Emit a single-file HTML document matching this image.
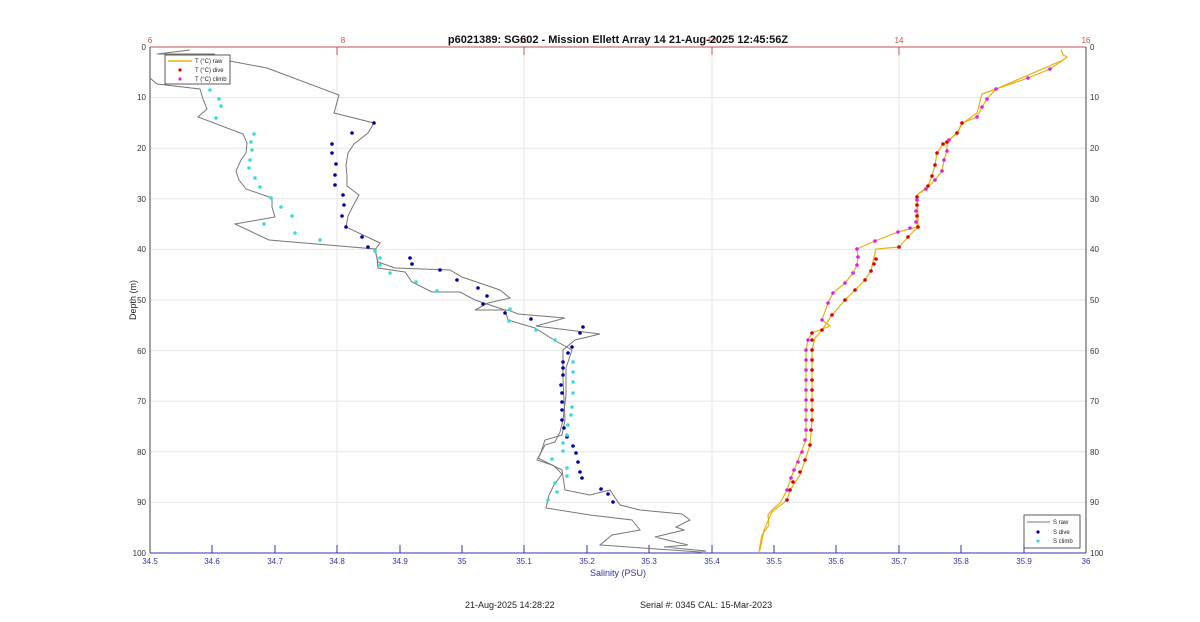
<!DOCTYPE html>
<html><head><meta charset="utf-8"><style>
body{margin:0;background:#fff}
svg{display:block;font-family:"Liberation Sans",sans-serif}
</style></head><body>
<svg width="1200" height="622" viewBox="0 0 1200 622">
<rect width="1200" height="622" fill="#fff"/>
<g stroke="#e6e6e6" stroke-width="1">
<line x1="150" y1="97.6" x2="1086" y2="97.6"/><line x1="150" y1="148.2" x2="1086" y2="148.2"/><line x1="150" y1="198.8" x2="1086" y2="198.8"/><line x1="150" y1="249.4" x2="1086" y2="249.4"/><line x1="150" y1="300" x2="1086" y2="300"/><line x1="150" y1="350.6" x2="1086" y2="350.6"/><line x1="150" y1="401.2" x2="1086" y2="401.2"/><line x1="150" y1="451.8" x2="1086" y2="451.8"/><line x1="150" y1="502.4" x2="1086" y2="502.4"/>
<line x1="337" y1="47" x2="337" y2="553"/><line x1="524" y1="47" x2="524" y2="553"/><line x1="712" y1="47" x2="712" y2="553"/><line x1="899" y1="47" x2="899" y2="553"/>
</g>
<!-- axes -->
<line x1="150" y1="47" x2="1086" y2="47" stroke="#c0504d"/>
<line x1="150" y1="553" x2="1086" y2="553" stroke="#3333aa"/>
<line x1="150" y1="47" x2="150" y2="553" stroke="#444"/>
<line x1="1086" y1="47" x2="1086" y2="553" stroke="#444"/>
<g stroke="#c0504d"><line x1="337" y1="47" x2="337" y2="55"/><line x1="524" y1="47" x2="524" y2="55"/><line x1="712" y1="47" x2="712" y2="55"/><line x1="899" y1="47" x2="899" y2="55"/></g>
<g stroke="#3333aa">
<line x1="212" y1="553" x2="212" y2="545"/><line x1="275" y1="553" x2="275" y2="545"/><line x1="337" y1="553" x2="337" y2="545"/><line x1="400" y1="553" x2="400" y2="545"/><line x1="462" y1="553" x2="462" y2="545"/><line x1="524" y1="553" x2="524" y2="545"/><line x1="587" y1="553" x2="587" y2="545"/><line x1="649" y1="553" x2="649" y2="545"/><line x1="712" y1="553" x2="712" y2="545"/><line x1="774" y1="553" x2="774" y2="545"/><line x1="836" y1="553" x2="836" y2="545"/><line x1="899" y1="553" x2="899" y2="545"/><line x1="961" y1="553" x2="961" y2="545"/><line x1="1024" y1="553" x2="1024" y2="545"/>
</g>
<g font-size="8" fill="#c0504d" text-anchor="middle">
<text x="150" y="43">6</text><text x="343" y="43">8</text><text x="524" y="43">10</text><text x="712" y="43">12</text><text x="899" y="43">14</text><text x="1086" y="43">16</text>
</g>
<g font-size="8" fill="#3333aa" text-anchor="middle">
<text x="150" y="564">34.5</text><text x="212" y="564">34.6</text><text x="275" y="564">34.7</text><text x="337" y="564">34.8</text><text x="400" y="564">34.9</text><text x="462" y="564">35</text><text x="524" y="564">35.1</text><text x="587" y="564">35.2</text><text x="649" y="564">35.3</text><text x="712" y="564">35.4</text><text x="774" y="564">35.5</text><text x="836" y="564">35.6</text><text x="899" y="564">35.7</text><text x="961" y="564">35.8</text><text x="1024" y="564">35.9</text><text x="1086" y="564">36</text>
</g>
<g font-size="8" fill="#333" text-anchor="end">
<text x="146" y="50">0</text><text x="146" y="100">10</text><text x="146" y="151">20</text><text x="146" y="202">30</text><text x="146" y="252">40</text><text x="146" y="303">50</text><text x="146" y="354">60</text><text x="146" y="404">70</text><text x="146" y="455">80</text><text x="146" y="505">90</text><text x="146" y="556">100</text>
</g>
<g font-size="8" fill="#333">
<text x="1090" y="50">0</text><text x="1090" y="100">10</text><text x="1090" y="151">20</text><text x="1090" y="202">30</text><text x="1090" y="252">40</text><text x="1090" y="303">50</text><text x="1090" y="354">60</text><text x="1090" y="404">70</text><text x="1090" y="455">80</text><text x="1090" y="505">90</text><text x="1090" y="556">100</text>
</g>
<text x="618" y="43" font-size="11" font-weight="bold" text-anchor="middle" fill="#111">p6021389: SG602 - Mission Ellett Array 14 21-Aug-2025 12:45:56Z</text>
<text x="618" y="576" font-size="9" fill="#3333aa" text-anchor="middle">Salinity (PSU)</text>
<text transform="translate(136,300) rotate(-90)" font-size="9" fill="#222" text-anchor="middle">Depth (m)</text>
<text x="465" y="608" font-size="9" fill="#222">21-Aug-2025 14:28:22</text>
<text x="640" y="608" font-size="9" fill="#222">Serial #: 0345  CAL: 15-Mar-2023</text>

<!-- S raw -->
<g fill="none" stroke="#777" stroke-width="1">
<polyline points="190,50 157,54 215,54 203,56 267,68 339,95 334,113 374,123 368,133 354,144 348,153 346,165 347,176 347,186 359,195 353,206 348,216 346,227 380,243 375,250 378,262 395,268 450,270 462,277 500,290 510,298 488,303 475,310 508,310 518,314 565,318 536,326 600,334 575,340 563,350 563,380 565,420 562,435 545,440 540,455 537,460 552,465 562,470 565,490 590,495 610,490 620,505 640,510 682,514 690,520 676,527 684,530 655,537 688,545 664,547 706,551 700,552"/>
<polyline points="150,78 157,84 200,89 203,99 207,109 198,117 243,134 247,143 246,153 241,160 236,171 239,180 246,189 272,198 272,207 275,217 235,224 269,240 375,249 377,258 378,268 405,272 412,282 432,292 460,292 475,300 505,310 508,320 535,328 554,340 572,350 566,368 566,395 563,420 560,432 555,442 545,445 538,458 554,466 562,474 554,485 549,495 546,508 590,515 632,520 640,530 612,535 600,545 700,552"/>
</g>
<!-- S dive -->
<g fill="#0000a8">
<circle cx="374" cy="123" r="1.8"/><circle cx="352" cy="133" r="1.8"/><circle cx="332" cy="144" r="1.8"/><circle cx="332" cy="153" r="1.8"/><circle cx="336" cy="164" r="1.8"/><circle cx="335" cy="175" r="1.8"/><circle cx="335" cy="185" r="1.8"/><circle cx="343" cy="195" r="1.8"/><circle cx="344" cy="205" r="1.8"/><circle cx="342" cy="216" r="1.8"/><circle cx="346" cy="227" r="1.8"/><circle cx="362" cy="237" r="1.8"/><circle cx="368" cy="247" r="1.8"/><circle cx="410" cy="258" r="1.8"/><circle cx="412" cy="264" r="1.8"/><circle cx="440" cy="270" r="1.8"/><circle cx="457" cy="280" r="1.8"/><circle cx="478" cy="288" r="1.8"/><circle cx="487" cy="296" r="1.8"/><circle cx="483" cy="304" r="1.8"/><circle cx="505" cy="313" r="1.8"/><circle cx="531" cy="319" r="1.8"/><circle cx="583" cy="327" r="1.8"/><circle cx="580" cy="333" r="1.8"/><circle cx="572" cy="347" r="1.8"/><circle cx="568" cy="353" r="1.8"/><circle cx="563" cy="362" r="1.8"/><circle cx="563" cy="368" r="1.8"/><circle cx="563" cy="375" r="1.8"/><circle cx="561" cy="385" r="1.8"/><circle cx="562" cy="393" r="1.8"/><circle cx="562" cy="402" r="1.8"/><circle cx="562" cy="410" r="1.8"/><circle cx="562" cy="420" r="1.8"/><circle cx="564" cy="428" r="1.8"/><circle cx="567" cy="437" r="1.8"/><circle cx="573" cy="446" r="1.8"/><circle cx="576" cy="453" r="1.8"/><circle cx="578" cy="462" r="1.8"/><circle cx="580" cy="472" r="1.8"/><circle cx="582" cy="478" r="1.8"/><circle cx="601" cy="489" r="1.8"/><circle cx="608" cy="494" r="1.8"/><circle cx="613" cy="502" r="1.8"/>
</g>
<!-- S climb -->
<g fill="#33dddd">
<circle cx="210" cy="90" r="1.8"/><circle cx="219" cy="99" r="1.8"/><circle cx="221" cy="106" r="1.8"/><circle cx="216" cy="118" r="1.8"/><circle cx="254" cy="134" r="1.8"/><circle cx="251" cy="142" r="1.8"/><circle cx="252" cy="150" r="1.8"/><circle cx="250" cy="160" r="1.8"/><circle cx="249" cy="168" r="1.8"/><circle cx="255" cy="178" r="1.8"/><circle cx="260" cy="187" r="1.8"/><circle cx="271" cy="198" r="1.8"/><circle cx="281" cy="207" r="1.8"/><circle cx="292" cy="216" r="1.8"/><circle cx="264" cy="224" r="1.8"/><circle cx="295" cy="233" r="1.8"/><circle cx="320" cy="240" r="1.8"/><circle cx="375" cy="251" r="1.8"/><circle cx="380" cy="258" r="1.8"/><circle cx="380" cy="265" r="1.8"/><circle cx="390" cy="273" r="1.8"/><circle cx="416" cy="282" r="1.8"/><circle cx="437" cy="291" r="1.8"/><circle cx="510" cy="309" r="1.8"/><circle cx="509" cy="321" r="1.8"/><circle cx="536" cy="330" r="1.8"/><circle cx="555" cy="340" r="1.8"/><circle cx="573" cy="362" r="1.8"/><circle cx="573" cy="372" r="1.8"/><circle cx="573" cy="382" r="1.8"/><circle cx="573" cy="393" r="1.8"/><circle cx="572" cy="407" r="1.8"/><circle cx="571" cy="415" r="1.8"/><circle cx="568" cy="425" r="1.8"/><circle cx="567" cy="435" r="1.8"/><circle cx="563" cy="443" r="1.8"/><circle cx="563" cy="451" r="1.8"/><circle cx="552" cy="459" r="1.8"/><circle cx="567" cy="468" r="1.8"/><circle cx="567" cy="476" r="1.8"/><circle cx="555" cy="483" r="1.8"/><circle cx="557" cy="492" r="1.8"/><circle cx="548" cy="500" r="1.8"/>
</g>
<!-- T raw -->
<g fill="none" stroke="#e8b010" stroke-width="1.2">
<polyline points="1061,50 1063,55 1067,57 1063,60 1050,69 1028,78 996,89 982,94 977,113 963,123 957,133 949,140 943,144 937,153 935,165 932,176 928,186 917,195 917,205 917,216 917,227 898,232 875,241 857,249 858,257 857,265 853,273 845,283 833,293 828,303 822,320 830,326 812,333 808,340 806,350 806,380 806,420 806,440 798,460 791,478 787,490 780,503 772,510 768,515 769,525 762,535 760,545 759,552"/>
<polyline points="1063,60 996,89 987,99 982,107 977,117 962,123 957,133 947,142 947,151 944,160 942,171 935,180 926,189 917,195 918,216 918,227 908,237 899,247 876,249 874,257 871,271 865,280 855,290 845,300 832,315 822,330 815,338 812,350 812,380 812,420 810,445 805,460 800,475 790,490 787,500 772,512 764,530 760,550"/>
</g>
<g fill="#dd0000">
<circle cx="962" cy="123" r="1.8"/><circle cx="957" cy="133" r="1.8"/><circle cx="947" cy="142" r="1.8"/><circle cx="943" cy="144" r="1.8"/><circle cx="937" cy="153" r="1.8"/><circle cx="935" cy="165" r="1.8"/><circle cx="932" cy="176" r="1.8"/><circle cx="928" cy="186" r="1.8"/><circle cx="917" cy="197" r="1.8"/><circle cx="917" cy="205" r="1.8"/><circle cx="917" cy="216" r="1.8"/><circle cx="918" cy="227" r="1.8"/><circle cx="908" cy="237" r="1.8"/><circle cx="899" cy="247" r="1.8"/><circle cx="876" cy="259" r="1.8"/><circle cx="874" cy="264" r="1.8"/><circle cx="871" cy="271" r="1.8"/><circle cx="865" cy="280" r="1.8"/><circle cx="855" cy="290" r="1.8"/><circle cx="845" cy="300" r="1.8"/><circle cx="832" cy="315" r="1.8"/><circle cx="822" cy="330" r="1.8"/><circle cx="812" cy="333" r="1.8"/><circle cx="812" cy="340" r="1.8"/><circle cx="812" cy="350" r="1.8"/><circle cx="812" cy="360" r="1.8"/><circle cx="812" cy="370" r="1.8"/><circle cx="812" cy="380" r="1.8"/><circle cx="812" cy="390" r="1.8"/><circle cx="812" cy="400" r="1.8"/><circle cx="812" cy="410" r="1.8"/><circle cx="812" cy="420" r="1.8"/><circle cx="811" cy="430" r="1.8"/><circle cx="810" cy="445" r="1.8"/><circle cx="805" cy="460" r="1.8"/><circle cx="800" cy="472" r="1.8"/><circle cx="793" cy="482" r="1.8"/><circle cx="790" cy="490" r="1.8"/><circle cx="787" cy="500" r="1.8"/>
</g>
<g fill="#e020e0">
<circle cx="1050" cy="69" r="1.8"/><circle cx="1028" cy="78" r="1.8"/><circle cx="996" cy="89" r="1.8"/><circle cx="987" cy="99" r="1.8"/><circle cx="982" cy="107" r="1.8"/><circle cx="977" cy="117" r="1.8"/><circle cx="949" cy="140" r="1.8"/><circle cx="947" cy="151" r="1.8"/><circle cx="944" cy="160" r="1.8"/><circle cx="942" cy="171" r="1.8"/><circle cx="935" cy="180" r="1.8"/><circle cx="926" cy="189" r="1.8"/><circle cx="917" cy="200" r="1.8"/><circle cx="916" cy="211" r="1.8"/><circle cx="916" cy="222" r="1.8"/><circle cx="910" cy="228" r="1.8"/><circle cx="898" cy="232" r="1.8"/><circle cx="875" cy="241" r="1.8"/><circle cx="857" cy="249" r="1.8"/><circle cx="858" cy="257" r="1.8"/><circle cx="857" cy="265" r="1.8"/><circle cx="853" cy="273" r="1.8"/><circle cx="845" cy="283" r="1.8"/><circle cx="833" cy="293" r="1.8"/><circle cx="828" cy="303" r="1.8"/><circle cx="822" cy="320" r="1.8"/><circle cx="808" cy="340" r="1.8"/><circle cx="806" cy="350" r="1.8"/><circle cx="806" cy="360" r="1.8"/><circle cx="806" cy="370" r="1.8"/><circle cx="806" cy="380" r="1.8"/><circle cx="806" cy="390" r="1.8"/><circle cx="806" cy="400" r="1.8"/><circle cx="806" cy="410" r="1.8"/><circle cx="806" cy="420" r="1.8"/><circle cx="806" cy="430" r="1.8"/><circle cx="805" cy="440" r="1.8"/><circle cx="802" cy="452" r="1.8"/><circle cx="798" cy="462" r="1.8"/><circle cx="794" cy="470" r="1.8"/><circle cx="791" cy="478" r="1.8"/><circle cx="787" cy="490" r="1.8"/>
</g>
<!-- legends -->
<rect x="165" y="55" width="65" height="29" fill="#fff" stroke="#333" stroke-width="0.8"/>
<line x1="168" y1="61" x2="192" y2="61" stroke="#e8b010" stroke-width="1.5"/>
<circle cx="180" cy="70" r="1.6" fill="#dd0000"/><circle cx="180" cy="79" r="1.6" fill="#e020e0"/>
<g font-size="6" fill="#222"><text x="195" y="63">T (°C) raw</text><text x="195" y="72">T (°C) dive</text><text x="195" y="81">T (°C) climb</text></g>
<rect x="1024" y="515" width="56" height="33" fill="#fff" stroke="#333" stroke-width="0.8"/>
<line x1="1027" y1="522" x2="1050" y2="522" stroke="#777"/>
<circle cx="1038" cy="532" r="1.6" fill="#0000a8"/><circle cx="1038" cy="541" r="1.6" fill="#33dddd"/>
<g font-size="6" fill="#222"><text x="1053" y="524">S raw</text><text x="1053" y="534">S dive</text><text x="1053" y="543">S climb</text></g>
</svg>
</body></html>
